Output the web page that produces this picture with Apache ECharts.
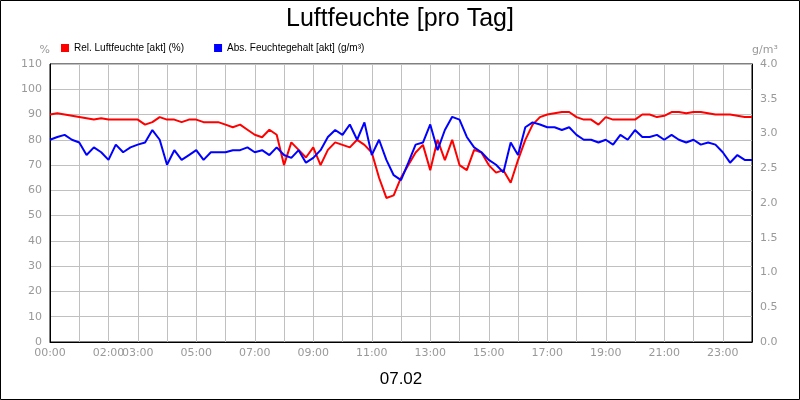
<!DOCTYPE html><html><head><meta charset="utf-8"><script src="https://cdn.jsdelivr.net/npm/echarts@6/dist/echarts.min.js"></script></head><body style="margin:0"><div id="c" style="width:800px;height:400px"></div><script>
const times=[];for(let i=0;i<=96;i++){const h=Math.floor(i/4),m=(i%4)*15;times.push(String(h).padStart(2,'0')+':'+String(m).padStart(2,'0'));}
const shownLabels=['00:00','02:00','03:00','05:00','07:00','09:00','11:00','13:00','15:00','17:00','19:00','21:00','23:00'];
const relHum=[90,90.5,90,89.5, 89,88.5,88,88.5, 88,88,88,88, 88,86,87,89, 88,88,87,88, 88,87,87,87, 86,85,86,84, 82,81,84,82, 70,79,76,73, 77,70,76,79, 78,77,80,78, 75,65,57,58, 65,70,75,78, 68,80,72,80, 70,68,76,75, 70,67,68,63, 72,80,86,89, 90,90.5,91,91, 89,88,88,86, 89,88,88,88, 88,90,90,89, 89.5,91,91,90.5, 91,91,90.5,90, 90,90,89.5,89, 89];
const absHum=[2.91,2.95,2.98,2.91, 2.87,2.69,2.8,2.73, 2.62,2.84,2.73,2.8, 2.84,2.87,3.05,2.91, 2.55,2.76,2.62,2.69, 2.76,2.62,2.73,2.73, 2.73,2.76,2.76,2.8, 2.73,2.76,2.69,2.8, 2.69,2.65,2.76,2.58, 2.65,2.76,2.95,3.05, 2.98,3.13,2.91,3.16, 2.69,2.91,2.62,2.4, 2.33,2.58,2.84,2.87, 3.13,2.76,3.05,3.24, 3.2,2.95,2.8,2.73, 2.62,2.55,2.44,2.87, 2.69,3.09,3.16,3.13, 3.09,3.09,3.05,3.09, 2.98,2.91,2.91,2.87, 2.91,2.84,2.98,2.91, 3.05,2.95,2.95,2.98, 2.91,2.98,2.91,2.87, 2.91,2.84,2.87,2.84, 2.73,2.58,2.69,2.62, 2.62];
const ax={color:'#999',fontSize:11,fontFamily:'DejaVu Sans'};
const ch=echarts.init(document.getElementById('c'));
ch.setOption({animation:false,backgroundColor:'#fff',
title:{text:'Luftfeuchte [pro Tag]',left:'center',top:2,textStyle:{fontSize:25,fontWeight:'normal',color:'#000',fontFamily:'Liberation Sans'}},
legend:{left:56,top:38,itemWidth:8,itemHeight:8,itemGap:30,textStyle:{fontSize:10,color:'#000',fontFamily:'Liberation Sans'},data:[{name:'Rel. Luftfeuchte [akt] (%)',icon:'rect'},{name:'Abs. Feuchtegehalt [akt] (g/m³)',icon:'rect'}]},
grid:{left:50,right:48,top:64,bottom:58,show:true,borderColor:'#000',borderWidth:1},
xAxis:{type:'category',data:times,boundaryGap:false,axisLine:{lineStyle:{color:'#000'}},axisTick:{show:false},
axisLabel:{...ax,interval:0,formatter:v=>shownLabels.includes(v)?v:'',margin:6},
splitLine:{show:true,interval:(i)=>i%4===0,lineStyle:{color:'#c0c0c0'}},
name:'07.02',nameLocation:'middle',nameGap:29,nameTextStyle:{fontSize:17,color:'#000',fontFamily:'Liberation Sans'}},
yAxis:[{type:'value',min:0,max:110,interval:10,name:'%',nameGap:8,nameTextStyle:{...ax,align:'right'},axisLabel:ax,axisLine:{show:true,lineStyle:{color:'#000'}},splitLine:{lineStyle:{color:'#c0c0c0'}}},
{type:'value',min:0,max:4,interval:0.5,name:'g/m³',nameGap:8,nameTextStyle:{...ax,align:'left'},axisLabel:{...ax,formatter:v=>v.toFixed(1)},axisLine:{show:true,lineStyle:{color:'#000'}},splitLine:{show:false}}],
series:[{name:'Rel. Luftfeuchte [akt] (%)',type:'line',data:relHum,symbol:'none',color:'#ff0000',lineStyle:{width:2}},
{name:'Abs. Feuchtegehalt [akt] (g/m³)',type:'line',yAxisIndex:1,data:absHum,symbol:'none',color:'#0000ff',lineStyle:{width:2}}],
graphic:[{type:'rect',shape:{x:0.5,y:0.5,width:799,height:399},style:{fill:'none',stroke:'#000',lineWidth:1}}]});
</script></body></html>
